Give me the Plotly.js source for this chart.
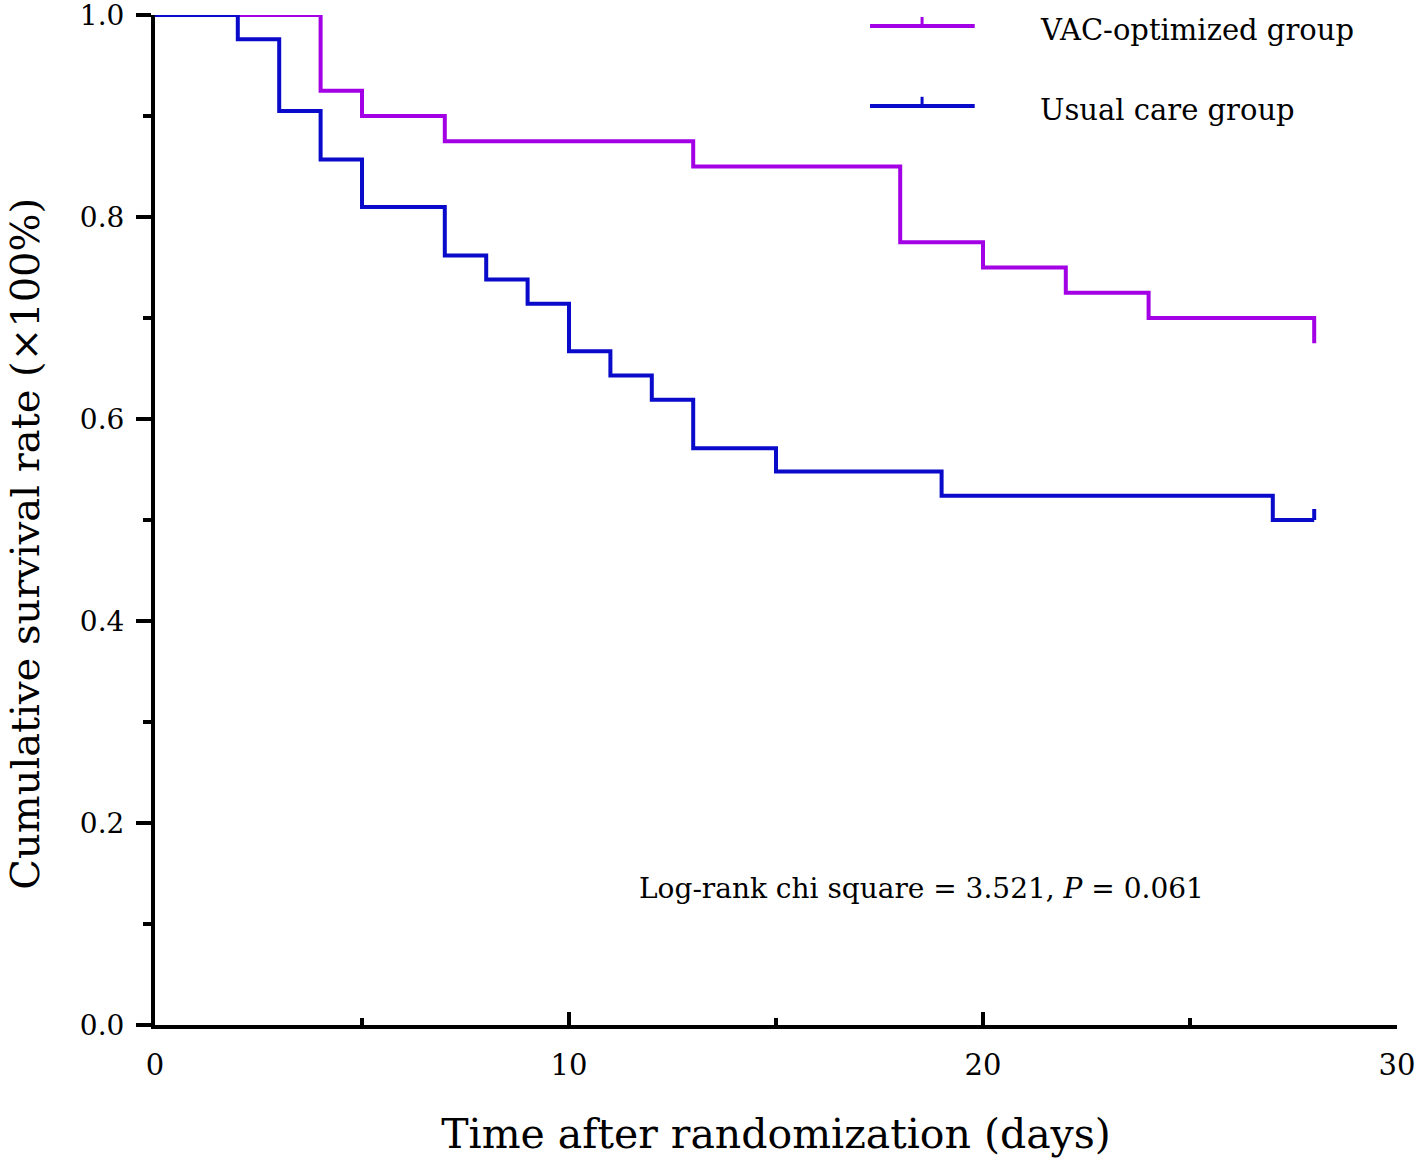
<!DOCTYPE html>
<html>
<head>
<meta charset="utf-8">
<script src="https://cdn.plot.ly/plotly-3.0.1.min.js"></script>
<style>html,body{margin:0;padding:0;background:#fff;}#chart{width:1416px;height:1167px;}</style>
</head>
<body>
<div id="chart"></div>
<script>
// Kaplan-Meier step data (days, cumulative survival)
const vacDays = [0, 4, 5, 7, 13, 18, 20, 22, 24, 28];
const vacSurv = [1.0, 0.925, 0.90, 0.875, 0.85, 0.775, 0.75, 0.725, 0.70, 0.675];
const usualDays = [0, 2, 3, 4, 5, 7, 8, 9, 10, 11, 12, 13, 15, 19, 27, 28];
const usualSurv = [1.0, 0.976, 0.905, 0.857, 0.810, 0.762, 0.738, 0.714, 0.667, 0.643, 0.619, 0.571, 0.548, 0.524, 0.50, 0.50];
// censored observations (usual care group)
const usualCensorDays = [28];
const usualCensorSurv = [0.50];
const seriesNames = ["VAC-optimized group", "Usual care group"];
const xTickVals = [0, 10, 20, 30];
const yTickVals = [0.0, 0.2, 0.4, 0.6, 0.8, 1.0];
const xTitle = "Time after randomization (days)";
const yTitle = "Cumulative survival rate (×100%)";
const statText = "Log-rank chi square = 3.521, <i>P</i> = 0.061";

const purple = "#A300E6";
const blue = "#0A0ACB";
const FONT = "DejaVu Serif";

const traces = [
  {x: vacDays, y: vacSurv, mode: "lines", line: {shape: "hv", color: purple, width: 4}, name: seriesNames[0], showlegend: false},
  {x: usualDays, y: usualSurv, mode: "lines", line: {shape: "hv", color: blue, width: 4}, name: seriesNames[1], showlegend: false}
];

const shapes = [];
usualCensorDays.forEach((d, i) => {
  shapes.push({type: "line", xref: "x", yref: "y", ysizemode: "pixel", yanchor: usualCensorSurv[i],
    x0: d, x1: d, y0: 0, y1: 11, line: {color: blue, width: 4}});
});

// manual legend glyphs (line with censor tick)
const legendRows = [{name: seriesNames[0], color: purple, y: 0.989}, {name: seriesNames[1], color: blue, y: 0.910}];
const annotations = [];
legendRows.forEach(r => {
  shapes.push({type: "line", xref: "paper", yref: "paper", x0: 0.5757, x1: 0.660, y0: r.y, y1: r.y, line: {color: r.color, width: 4}});
  shapes.push({type: "line", xref: "paper", yref: "paper", x0: 0.6176, x1: 0.6176, y0: r.y, y1: r.y + 0.009, line: {color: r.color, width: 3}});
  annotations.push({xref: "paper", yref: "paper", x: 0.711, y: r.y - 0.004, xanchor: "left", yanchor: "middle",
    text: r.name, showarrow: false, font: {family: FONT, size: 29, color: "#000"}});
});
annotations.push({xref: "paper", yref: "paper", x: 0.617, y: 0.135, xanchor: "center", yanchor: "middle",
  text: statText, showarrow: false, font: {family: FONT, size: 28, color: "#000"}});
// y axis title
annotations.push({xref: "paper", yref: "paper", x: -0.1045, y: 0.4768, xanchor: "center", yanchor: "middle",
  textangle: -90, text: yTitle, showarrow: false, font: {family: FONT, size: 40, color: "#000"}});

const layout = {
  width: 1416, height: 1167,
  margin: {l: 155, r: 19, t: 15, b: 142},
  paper_bgcolor: "#fff", plot_bgcolor: "#fff",
  font: {family: FONT, color: "#000"},
  showlegend: false,
  xaxis: {
    range: [0, 30], tickvals: xTickVals, ticktext: xTickVals.map(String),
    showline: true, linecolor: "#000", linewidth: 4, mirror: false,
    ticks: "inside", ticklen: 13, tickwidth: 4, tickcolor: "#000",
    minor: {dtick: 5, tick0: 0, ticks: "inside", ticklen: 7, tickwidth: 4, tickcolor: "#000", showgrid: false},
    showgrid: false, zeroline: false,
    ticklabelstandoff: 11, ticklabeloverflow: "allow",
    tickfont: {family: FONT, size: 29, color: "#000"},
    title: {text: xTitle, font: {family: FONT, size: 41, color: "#000"}, standoff: 40}
  },
  yaxis: {
    range: [0, 1], tickvals: yTickVals, ticktext: yTickVals.map(v => v.toFixed(1)),
    showline: true, linecolor: "#000", linewidth: 4, mirror: false,
    ticks: "outside", ticklen: 15, tickwidth: 4, tickcolor: "#000",
    minor: {dtick: 0.1, tick0: 0, ticks: "outside", ticklen: 8, tickwidth: 4, tickcolor: "#000", showgrid: false},
    showgrid: false, zeroline: false,
    ticklabeloverflow: "allow", ticklabelstandoff: 6,
    tickfont: {family: FONT, size: 28, color: "#000"}
  },
  shapes: shapes,
  annotations: annotations
};

Plotly.newPlot("chart", traces, layout, {displayModeBar: false, staticPlot: true});
</script>
</body>
</html>
